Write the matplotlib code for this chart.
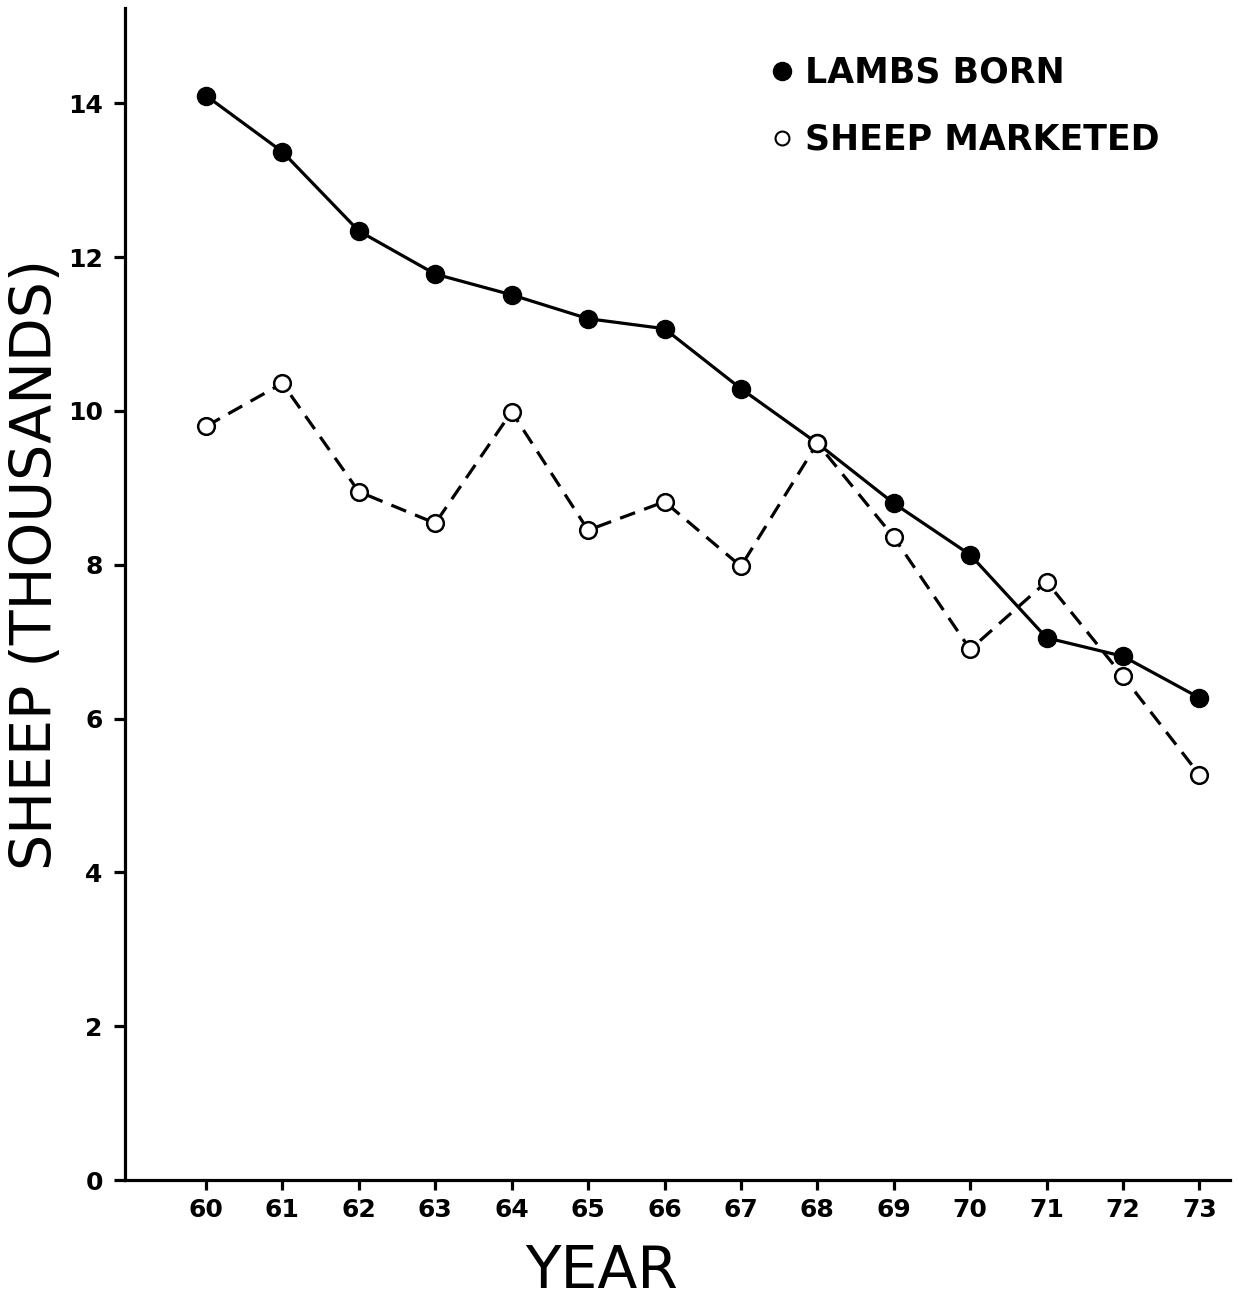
import matplotlib.pyplot as plt
from matplotlib.lines import Line2D

# datos
years = [60, 61, 62, 63, 64, 65, 66, 67, 68, 69, 70, 71, 72, 73]
lambs_born = [14.1, 13.37, 12.34, 11.78, 11.51, 11.2, 11.07, 10.29, 9.58, 8.8, 8.13, 7.05, 6.81, 6.27]
sheep_marketed = [9.8, 10.36, 8.95, 8.54, 9.99, 8.45, 8.82, 7.98, 9.58, 8.36, 6.9, 7.78, 6.55, 5.27]
y_ticks = [0, 2, 4, 6, 8, 10, 12, 14]
legend_labels = ["LAMBS BORN", "SHEEP MARKETED"]

plt.rcParams['font.family'] = 'DejaVu Sans'

fig = plt.figure(figsize=(12.39, 13.04), dpi=100)
W, H = 1239, 1304
ax = fig.add_axes([125 / W, (H - 1180) / H, (1230 - 125) / W, (1180 - 8) / H])

# linea llena con puntos negros
ax.plot(years, lambs_born, color='black', lw=2.3, marker='o', markersize=13,
        markerfacecolor='black', markeredgecolor='black', zorder=3)
# linea punteada con circulos blancos
ax.plot(years, sheep_marketed, color='black', lw=2.3, ls=(0, (5, 3)), marker='o',
        markersize=12, markerfacecolor='white', markeredgecolor='black',
        markeredgewidth=1.8, zorder=4)

ax.set_xlim(58.94, 73.4)
ax.set_ylim(0, 15.24)

ax.set_xticks(years)
ax.set_xticklabels([str(y) for y in years])
ax.set_yticks(y_ticks)
ax.set_yticklabels([str(t) for t in y_ticks])

for s in ['top', 'right']:
    ax.spines[s].set_visible(False)
for s in ['left', 'bottom']:
    ax.spines[s].set_linewidth(2.3)

ax.tick_params(axis='both', direction='out', width=2.3, labelsize=18)
ax.tick_params(axis='y', length=8, pad=8)
ax.tick_params(axis='x', length=7, pad=6)
for lab in ax.get_xticklabels() + ax.get_yticklabels():
    lab.set_fontweight('bold')

ax.set_xlabel('YEAR', fontsize=42, fontweight='normal')
ax.xaxis.label.set_va('center')
ax.xaxis.set_label_coords((602 - 125) / 1105, (1180 - 1272) / 1172)

ax.set_ylabel('SHEEP (THOUSANDS)', fontsize=41, fontweight='normal')
ax.yaxis.label.set_va('center')
ax.yaxis.set_label_coords((37 - 125) / 1105, (1180 - 565) / 1172)

handles = [
    Line2D([], [], ls='none', marker='o', markersize=13, markerfacecolor='black', markeredgecolor='black'),
    Line2D([], [], ls='none', marker='o', markersize=10, markerfacecolor='white', markeredgecolor='black',
           markeredgewidth=1.5),
]
leg = ax.legend(handles, legend_labels, loc='upper left', bbox_to_anchor=((756 - 125) / 1105, (1180 - 42) / 1172),
                frameon=False, handlelength=0.7, handletextpad=0.3, labelspacing=0.95,
                prop={'size': 25, 'weight': 'bold'}, borderaxespad=0)

fig.savefig('out.png', dpi=100)
